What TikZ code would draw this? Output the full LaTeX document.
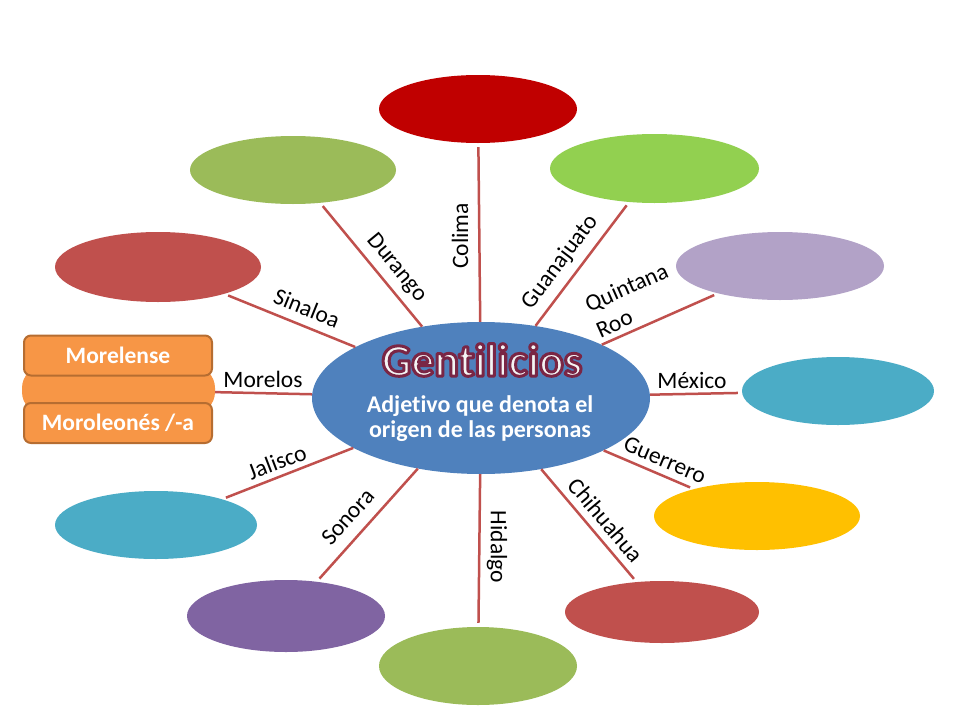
\documentclass[tikz,border=0pt]{standalone}
\usepackage{fontspec}
\setmainfont{Carlito}[Ligatures=NoCommon, RawFeature={-calt;-clig;-dlig}]
\usetikzlibrary{shapes.geometric}
\definecolor{cDarkRed}{HTML}{C00000}
\definecolor{cOlive}{HTML}{9BBB59}
\definecolor{cLime}{HTML}{92D050}
\definecolor{cBrick}{HTML}{C0504D}
\definecolor{cLav}{HTML}{B2A2C7}
\definecolor{cTeal}{HTML}{4BACC6}
\definecolor{cGold}{HTML}{FFC000}
\definecolor{cPurple}{HTML}{8064A2}
\definecolor{cBlue}{HTML}{4F81BD}
\definecolor{cOrange}{HTML}{F79646}
\definecolor{cOrangeDark}{HTML}{B66D31}
\definecolor{cLink}{HTML}{C0504D}
\definecolor{cTitle}{HTML}{F4F4F4}
\newcommand\glowtext[1]{\special{pdf:literal direct 0.48 0.15 0.27 RG 3 w 1 j 2 Tr}#1\special{pdf:literal direct 0 Tr}}
\begin{document}
\begin{tikzpicture}[x=1pt,y=-1pt,
  oval/.style={ellipse, draw=none, inner sep=0pt},
  link/.style={draw=cLink, line width=2.5pt, shorten >=4pt},
  lbl/.style={font=\fontsize{23.5}{28}\selectfont, inner sep=0pt, text=black},
  obox/.style={rectangle, rounded corners=7pt, fill=cOrange, draw=cOrangeDark, line width=2pt,
     minimum width=188pt, minimum height=40pt, inner sep=0pt,
     font=\fontsize{23.5}{26}\selectfont\bfseries, text=white}]
\useasboundingbox (0,0) rectangle (960,720);
\fill[white] (0,0) rectangle (960,720);

% outer ovals
\node[oval, fill=cDarkRed, minimum width=198pt, minimum height=68pt] (colima) at (478,109) {};
\node[oval, fill=cOlive, minimum width=206pt, minimum height=68pt] (durango) at (293,170) {};
\node[oval, fill=cLime, minimum width=209pt, minimum height=69pt] (guanajuato) at (654.5,168.5) {};
\node[oval, fill=cBrick, minimum width=206pt, minimum height=70pt] (sinaloa) at (158,267) {};
\node[oval, fill=cLav, minimum width=208pt, minimum height=68pt] (quintana) at (780,266) {};
\node[oval, fill=cTeal, minimum width=192pt, minimum height=68pt] (mexico) at (838,391) {};
\node[oval, fill=cGold, minimum width=206pt, minimum height=68pt] (guerrero) at (757,516) {};
\node[oval, fill=cBrick, minimum width=194pt, minimum height=62pt] (chihuahua) at (662,612) {};
\node[oval, fill=cOlive, minimum width=198pt, minimum height=78pt] (hidalgo) at (478,666) {};
\node[oval, fill=cPurple, minimum width=198pt, minimum height=72pt] (sonora) at (286,616) {};
\node[oval, fill=cTeal, minimum width=202pt, minimum height=68pt] (jalisco) at (156,525) {};

% Morelos group
\node[rectangle, rounded corners=22pt, fill=cOrange, draw=none, minimum width=193pt, minimum height=48pt, inner sep=0pt] (morelos) at (118.5,390) {};
\node[obox] (morelense) at (118,355.5) {Morelense};
\node[obox] (moroleones) at (118,423) {Moroleonés /-a};

% center
\node[oval, fill=cBlue, minimum width=338pt, minimum height=152pt] (c) at (481,398) {};

% connectors
\foreach \t in {colima,durango,guanajuato,sinaloa,quintana,mexico,guerrero,chihuahua,hidalgo,sonora,jalisco}
  \draw[link] (c) -- (\t);
\draw[link, shorten >=0pt] (c) -- (morelos);

% labels
\node[lbl, rotate=90] (lcolima) at (460,236) {Colima};
\node[lbl, rotate=-50.5] (ldurango) at (397,268) {Durango};
\node[lbl, rotate=53] (lguanajuato) at (560,262) {Guanajuato};
\node[lbl, rotate=-22] (lsinaloa) at (307,308) {Sinaloa};
\node[lbl, rotate=24, align=left] (lquintana) at (632,300) {Quintana\\Roo};
\node[lbl] (lmorelos) at (263,379) {Morelos};
\node[lbl] (lmexico) at (692,380) {México};
\node[lbl, rotate=21] (ljalisco) at (277,462) {Jalisco};
\node[lbl, rotate=-23] (lguerrero) at (665,460) {Guerrero};
\node[lbl, rotate=48] (lsonora) at (348,517) {Sonora};
\node[lbl, rotate=-90] (lhidalgo) at (497,547) {Hidalgo};
\node[lbl, rotate=-50] (lchihuahua) at (606,520) {Chihuahua};

% center texts
\node[inner sep=0pt, anchor=base, text=cTitle, font=\fontsize{46}{50}\selectfont\bfseries] (title) at (482,376) {\glowtext{Gentilicios}};
\node[inner sep=0pt, align=center, text=white, font=\fontsize{24}{25}\selectfont\bfseries] (subtitle) at (480,419) {Adjetivo que denota el\\origen de las personas};
\end{tikzpicture}
\end{document}
